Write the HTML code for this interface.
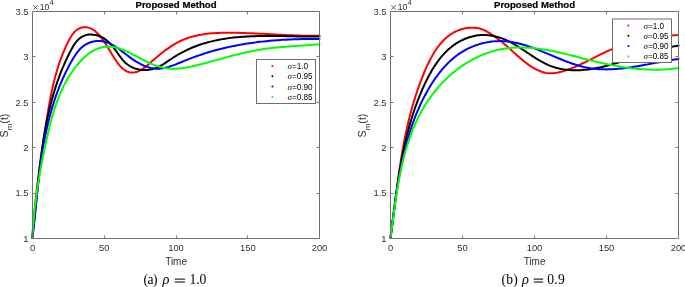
<!DOCTYPE html>
<html><head><meta charset="utf-8"><style>
html,body{margin:0;padding:0;background:#fff;width:685px;height:287px;overflow:hidden}
svg{display:block;will-change:transform}
</style></head><body>
<svg width="685" height="287" viewBox="0 0 685 287">
<rect width="685" height="287" fill="#fff"/>
<g fill="none" stroke-width="2" stroke-linejoin="round" stroke-linecap="round">
<path d="M32.30,238.00 32.45,235.78 32.60,233.55 32.76,231.32 32.93,229.10 33.10,226.87 33.28,224.64 33.47,222.40 33.65,220.17 33.85,217.94 34.05,215.71 34.26,213.47 34.47,211.24 34.68,209.00 34.90,206.76 35.13,204.53 35.36,202.29 35.60,200.05 35.84,197.81 36.08,195.57 36.33,193.33 36.59,191.10 36.85,188.86 37.11,186.62 37.38,184.38 37.65,182.14 37.93,179.90 38.21,177.67 38.49,175.43 38.78,173.19 39.07,170.95 39.37,168.72 39.67,166.48 39.97,164.25 40.27,162.01 40.58,159.78 40.89,157.55 41.21,155.32 41.53,153.09 41.85,150.86 42.17,148.63 42.50,146.40 42.83,144.18 43.17,141.95 43.50,139.73 43.84,137.51 44.18,135.29 44.52,133.07 44.87,130.86 45.21,128.64 45.56,126.43 45.91,124.22 46.27,122.01 46.62,119.80 46.98,117.60 47.34,115.40 47.70,113.20 48.07,111.00 48.44,108.80 48.82,106.61 49.20,104.42 49.60,102.23 50.00,100.04 50.42,97.85 50.84,95.67 51.28,93.49 51.73,91.31 52.20,89.14 52.68,86.96 53.18,84.79 53.70,82.62 54.23,80.45 54.79,78.29 55.36,76.12 55.96,73.96 56.57,71.80 57.22,69.65 57.88,67.49 58.57,65.34 59.29,63.19 60.04,61.05 60.81,58.90 61.62,56.76 62.45,54.62 63.31,52.48 64.21,50.34 65.14,48.21 66.11,46.08 67.11,43.95 68.15,41.83 69.23,39.73 70.38,37.70 71.59,35.76 72.88,33.94 74.26,32.27 75.74,30.79 77.33,29.52 79.04,28.49 80.89,27.74 82.88,27.30 84.99,27.18 87.15,27.37 89.30,27.87 91.38,28.69 93.34,29.79 95.19,31.15 96.92,32.69 98.55,34.39 100.09,36.19 101.54,38.04 102.90,39.90 104.20,41.76 105.43,43.62 106.62,45.48 107.78,47.35 108.92,49.23 110.05,51.11 111.19,53.01 112.35,54.92 113.54,56.85 114.78,58.80 116.08,60.76 117.44,62.72 118.88,64.61 120.39,66.41 121.99,68.06 123.67,69.51 125.45,70.72 127.32,71.65 129.29,72.27 131.31,72.59 133.34,72.60 135.35,72.31 137.31,71.74 139.23,70.93 141.11,69.90 142.96,68.70 144.79,67.36 146.59,65.92 148.38,64.41 150.16,62.86 151.94,61.32 153.71,59.78 155.49,58.26 157.27,56.76 159.06,55.28 160.85,53.83 162.65,52.40 164.46,51.01 166.28,49.65 168.11,48.34 169.96,47.06 171.83,45.83 173.72,44.65 175.63,43.53 177.56,42.46 179.51,41.45 181.49,40.50 183.50,39.62 185.54,38.81 187.60,38.06 189.69,37.37 191.80,36.75 193.94,36.18 196.09,35.66 198.26,35.20 200.45,34.79 202.66,34.42 204.88,34.10 207.11,33.82 209.35,33.58 211.60,33.37 213.87,33.20 216.13,33.06 218.41,32.95 220.68,32.87 222.96,32.81 225.24,32.77 227.52,32.75 229.79,32.75 232.06,32.76 234.33,32.79 236.59,32.82 238.85,32.87 241.10,32.92 243.35,32.99 245.60,33.06 247.84,33.14 250.08,33.23 252.32,33.32 254.56,33.43 256.79,33.53 259.02,33.64 261.25,33.76 263.48,33.87 265.70,33.99 267.93,34.11 270.16,34.23 272.38,34.36 274.61,34.48 276.83,34.60 279.06,34.72 281.28,34.83 283.51,34.94 285.74,35.05 287.97,35.15 290.20,35.25 292.44,35.34 294.67,35.43 296.91,35.50 299.15,35.57 301.40,35.63 303.65,35.68 305.90,35.72 308.16,35.75 310.42,35.77 312.68,35.77 314.95,35.76 317.22,35.74 319.50,35.70" stroke="#ff0000"/>
<path d="M32.29,238.00 32.56,235.88 32.82,233.76 33.07,231.64 33.32,229.52 33.57,227.40 33.81,225.27 34.04,223.15 34.27,221.02 34.50,218.89 34.73,216.76 34.95,214.63 35.17,212.49 35.39,210.36 35.60,208.23 35.82,206.09 36.03,203.96 36.24,201.82 36.46,199.69 36.67,197.55 36.88,195.41 37.09,193.27 37.31,191.14 37.52,189.00 37.74,186.86 37.95,184.72 38.17,182.59 38.39,180.45 38.62,178.31 38.85,176.18 39.08,174.04 39.31,171.91 39.55,169.77 39.79,167.64 40.04,165.50 40.29,163.37 40.55,161.24 40.81,159.11 41.08,156.98 41.36,154.85 41.64,152.73 41.93,150.60 42.22,148.48 42.52,146.36 42.83,144.24 43.15,142.12 43.48,140.00 43.82,137.89 44.16,135.77 44.52,133.66 44.88,131.55 45.26,129.45 45.64,127.34 46.04,125.24 46.44,123.14 46.86,121.05 47.29,118.95 47.73,116.86 48.19,114.77 48.65,112.68 49.13,110.60 49.63,108.52 50.13,106.44 50.65,104.37 51.19,102.30 51.74,100.23 52.30,98.17 52.88,96.11 53.47,94.05 54.09,92.00 54.71,89.95 55.36,87.91 56.02,85.86 56.69,83.83 57.39,81.79 58.10,79.76 58.83,77.74 59.58,75.72 60.35,73.70 61.13,71.69 61.94,69.68 62.77,67.68 63.61,65.68 64.48,63.69 65.37,61.70 66.27,59.72 67.20,57.74 68.15,55.77 69.13,53.80 70.12,51.84 71.14,49.89 72.20,47.96 73.29,46.08 74.45,44.28 75.67,42.56 76.97,40.95 78.36,39.48 79.85,38.16 81.45,37.02 83.18,36.08 85.04,35.35 87.02,34.86 89.10,34.58 91.23,34.51 93.40,34.65 95.57,34.99 97.71,35.52 99.78,36.23 101.75,37.12 103.63,38.17 105.41,39.38 107.10,40.71 108.72,42.17 110.26,43.72 111.74,45.36 113.16,47.07 114.53,48.84 115.86,50.64 117.16,52.46 118.44,54.28 119.73,56.09 121.04,57.85 122.38,59.54 123.79,61.15 125.28,62.65 126.86,64.03 128.54,65.26 130.31,66.35 132.16,67.29 134.08,68.10 136.06,68.76 138.09,69.29 140.15,69.67 142.24,69.91 144.35,70.01 146.47,69.97 148.58,69.79 150.67,69.47 152.74,69.01 154.77,68.40 156.75,67.66 158.69,66.79 160.59,65.80 162.45,64.73 164.29,63.59 166.11,62.39 167.92,61.17 169.73,59.94 171.55,58.71 173.38,57.52 175.22,56.36 177.08,55.23 178.96,54.14 180.85,53.08 182.75,52.06 184.67,51.08 186.60,50.13 188.54,49.23 190.49,48.36 192.45,47.53 194.43,46.73 196.41,45.97 198.41,45.25 200.41,44.56 202.43,43.90 204.45,43.28 206.49,42.69 208.53,42.13 210.58,41.60 212.64,41.10 214.71,40.63 216.79,40.19 218.87,39.77 220.96,39.38 223.06,39.02 225.16,38.68 227.27,38.37 229.38,38.08 231.50,37.81 233.63,37.56 235.76,37.34 237.90,37.13 240.04,36.95 242.18,36.78 244.33,36.63 246.48,36.50 248.63,36.38 250.79,36.28 252.95,36.20 255.11,36.13 257.28,36.07 259.44,36.02 261.61,35.99 263.78,35.97 265.95,35.95 268.11,35.95 270.28,35.95 272.45,35.97 274.62,35.98 276.79,36.01 278.95,36.04 281.12,36.08 283.28,36.12 285.44,36.16 287.60,36.20 289.76,36.25 291.91,36.29 294.06,36.34 296.21,36.39 298.35,36.43 300.49,36.47 302.62,36.51 304.75,36.54 306.88,36.57 309.00,36.59 311.11,36.61 313.22,36.62 315.32,36.62 317.41,36.62 319.50,36.60" stroke="#000000"/>
<path d="M32.29,238.00 32.54,235.97 32.78,233.95 33.01,231.91 33.24,229.88 33.47,227.85 33.70,225.81 33.92,223.77 34.14,221.73 34.36,219.69 34.58,217.65 34.79,215.60 35.01,213.55 35.22,211.50 35.43,209.45 35.64,207.40 35.86,205.35 36.07,203.30 36.28,201.25 36.50,199.19 36.71,197.14 36.93,195.08 37.15,193.03 37.37,190.97 37.59,188.92 37.82,186.86 38.05,184.81 38.28,182.75 38.52,180.70 38.76,178.64 39.00,176.59 39.25,174.54 39.51,172.48 39.77,170.43 40.03,168.38 40.30,166.33 40.58,164.28 40.86,162.24 41.15,160.19 41.45,158.15 41.76,156.10 42.07,154.06 42.39,152.02 42.72,149.99 43.06,147.95 43.40,145.92 43.76,143.89 44.12,141.86 44.50,139.84 44.88,137.81 45.28,135.79 45.69,133.78 46.10,131.76 46.53,129.75 46.97,127.74 47.42,125.74 47.89,123.74 48.37,121.74 48.86,119.74 49.36,117.75 49.88,115.77 50.41,113.78 50.95,111.80 51.51,109.83 52.08,107.86 52.67,105.89 53.28,103.93 53.90,101.97 54.53,100.02 55.18,98.07 55.85,96.13 56.54,94.19 57.24,92.26 57.96,90.33 58.70,88.41 59.45,86.49 60.23,84.58 61.02,82.68 61.83,80.78 62.66,78.88 63.51,76.99 64.38,75.11 65.27,73.24 66.18,71.37 67.12,69.50 68.07,67.65 69.04,65.80 70.04,63.96 71.06,62.12 72.10,60.29 73.17,58.47 74.27,56.68 75.40,54.93 76.59,53.22 77.84,51.59 79.14,50.02 80.52,48.55 81.97,47.18 83.52,45.93 85.15,44.80 86.88,43.82 88.70,42.98 90.58,42.28 92.52,41.73 94.50,41.34 96.50,41.09 98.51,41.00 100.51,41.07 102.48,41.30 104.42,41.68 106.33,42.22 108.20,42.89 110.04,43.68 111.85,44.58 113.65,45.58 115.42,46.67 117.18,47.83 118.92,49.04 120.65,50.30 122.38,51.60 124.10,52.92 125.82,54.24 127.55,55.56 129.28,56.87 131.02,58.14 132.78,59.37 134.54,60.55 136.32,61.67 138.12,62.73 139.92,63.72 141.74,64.65 143.58,65.49 145.42,66.25 147.28,66.91 149.15,67.49 151.04,67.96 152.93,68.32 154.84,68.57 156.77,68.70 158.70,68.71 160.65,68.59 162.61,68.34 164.57,67.96 166.55,67.48 168.53,66.91 170.51,66.27 172.49,65.57 174.47,64.83 176.43,64.06 178.39,63.28 180.34,62.50 182.29,61.71 184.22,60.94 186.15,60.16 188.08,59.40 190.01,58.64 191.95,57.90 193.88,57.17 195.82,56.46 197.77,55.77 199.72,55.10 201.67,54.44 203.63,53.80 205.59,53.17 207.56,52.56 209.53,51.97 211.50,51.39 213.48,50.83 215.46,50.29 217.45,49.76 219.44,49.24 221.43,48.74 223.43,48.26 225.43,47.79 227.43,47.33 229.44,46.89 231.45,46.46 233.46,46.05 235.47,45.65 237.49,45.26 239.51,44.89 241.54,44.53 243.56,44.18 245.59,43.85 247.62,43.53 249.66,43.22 251.69,42.92 253.73,42.64 255.77,42.37 257.81,42.11 259.85,41.86 261.90,41.62 263.94,41.40 265.99,41.19 268.04,40.98 270.09,40.79 272.15,40.61 274.20,40.44 276.25,40.28 278.31,40.13 280.37,39.99 282.42,39.86 284.48,39.74 286.54,39.63 288.60,39.53 290.66,39.44 292.72,39.35 294.78,39.28 296.84,39.21 298.90,39.16 300.96,39.11 303.03,39.07 305.09,39.04 307.15,39.01 309.21,38.99 311.27,38.98 313.33,38.98 315.38,38.99 317.44,39.00 319.50,39.02" stroke="#0000ff"/>
<path d="M32.30,238.00 32.42,235.97 32.55,233.95 32.68,231.93 32.82,229.91 32.97,227.90 33.12,225.89 33.29,223.89 33.46,221.89 33.63,219.89 33.82,217.90 34.01,215.91 34.21,213.92 34.42,211.94 34.63,209.96 34.85,207.98 35.08,206.00 35.31,204.03 35.55,202.06 35.80,200.09 36.05,198.13 36.31,196.16 36.58,194.20 36.85,192.24 37.13,190.28 37.42,188.32 37.71,186.37 38.01,184.42 38.31,182.46 38.63,180.51 38.94,178.56 39.27,176.61 39.60,174.66 39.93,172.71 40.28,170.76 40.63,168.81 40.98,166.87 41.34,164.92 41.70,162.97 42.08,161.02 42.45,159.07 42.84,157.12 43.22,155.17 43.62,153.22 44.02,151.27 44.42,149.32 44.83,147.37 45.25,145.41 45.67,143.46 46.10,141.50 46.53,139.54 46.96,137.58 47.41,135.62 47.86,133.66 48.32,131.70 48.78,129.74 49.26,127.78 49.74,125.82 50.24,123.87 50.75,121.91 51.27,119.97 51.80,118.02 52.35,116.08 52.91,114.15 53.48,112.22 54.08,110.30 54.69,108.39 55.31,106.48 55.96,104.58 56.62,102.69 57.31,100.81 58.01,98.94 58.74,97.09 59.49,95.24 60.26,93.40 61.06,91.58 61.88,89.76 62.72,87.97 63.59,86.18 64.49,84.41 65.42,82.66 66.37,80.92 67.35,79.20 68.37,77.49 69.41,75.80 70.48,74.13 71.59,72.48 72.73,70.85 73.91,69.24 75.11,67.65 76.36,66.08 77.64,64.53 78.95,63.00 80.30,61.49 81.70,60.01 83.13,58.56 84.60,57.16 86.11,55.80 87.66,54.51 89.25,53.29 90.89,52.15 92.56,51.10 94.28,50.16 96.05,49.32 97.84,48.59 99.67,47.97 101.52,47.46 103.39,47.07 105.27,46.79 107.17,46.64 109.07,46.60 110.98,46.69 112.88,46.90 114.77,47.23 116.66,47.67 118.55,48.20 120.43,48.82 122.31,49.51 124.18,50.28 126.04,51.10 127.90,51.97 129.75,52.88 131.60,53.81 133.44,54.77 135.27,55.73 137.09,56.70 138.91,57.67 140.72,58.62 142.53,59.56 144.34,60.48 146.15,61.38 147.95,62.25 149.76,63.09 151.58,63.88 153.40,64.64 155.22,65.34 157.05,66.00 158.89,66.59 160.75,67.13 162.61,67.59 164.49,67.98 166.38,68.30 168.28,68.53 170.20,68.69 172.14,68.77 174.08,68.78 176.04,68.73 178.01,68.62 179.98,68.45 181.96,68.22 183.95,67.95 185.94,67.63 187.93,67.28 189.93,66.89 191.92,66.46 193.92,66.01 195.91,65.54 197.90,65.04 199.89,64.53 201.87,64.01 203.84,63.49 205.81,62.96 207.76,62.43 209.71,61.89 211.66,61.36 213.60,60.82 215.53,60.28 217.46,59.75 219.39,59.22 221.31,58.68 223.23,58.16 225.14,57.63 227.06,57.11 228.97,56.60 230.88,56.09 232.79,55.59 234.70,55.10 236.61,54.61 238.52,54.14 240.44,53.67 242.35,53.21 244.27,52.77 246.19,52.33 248.12,51.91 250.04,51.51 251.98,51.11 253.92,50.73 255.86,50.37 257.81,50.02 259.77,49.69 261.73,49.38 263.70,49.09 265.68,48.81 267.66,48.54 269.65,48.30 271.64,48.06 273.64,47.84 275.64,47.63 277.64,47.43 279.65,47.24 281.66,47.06 283.67,46.88 285.68,46.72 287.69,46.56 289.70,46.41 291.71,46.26 293.72,46.12 295.73,45.98 297.74,45.84 299.74,45.70 301.74,45.57 303.73,45.43 305.73,45.29 307.71,45.15 309.69,45.01 311.67,44.86 313.64,44.71 315.60,44.55 317.55,44.39 319.50,44.22" stroke="#00ff00"/>
</g>
<rect x="32.5" y="11.5" width="287" height="227" fill="none" stroke="#6e6e6e" stroke-width="1"/>
<path d="M32.5,238.5v-3M32.5,11.5v3M104.5,238.5v-3M104.5,11.5v3M176.5,238.5v-3M176.5,11.5v3M247.5,238.5v-3M247.5,11.5v3M319.5,238.5v-3M319.5,11.5v3M32.5,238.5h3M319.5,238.5h-3M32.5,193.5h3M319.5,193.5h-3M32.5,147.5h3M319.5,147.5h-3M32.5,102.5h3M319.5,102.5h-3M32.5,56.5h3M319.5,56.5h-3M32.5,11.5h3M319.5,11.5h-3" stroke="#7c7c7c" stroke-width="1" fill="none"/>
<g font-family="Liberation Sans, sans-serif" font-size="9.4" fill="#303030">
<text x="32.5" y="251.3" text-anchor="middle">0</text>
<text x="104.2" y="251.3" text-anchor="middle">50</text>
<text x="176.0" y="251.3" text-anchor="middle">100</text>
<text x="247.8" y="251.3" text-anchor="middle">150</text>
<text x="319.5" y="251.3" text-anchor="middle">200</text>
<text x="28.5" y="241.7" text-anchor="end">1</text>
<text x="28.5" y="196.3" text-anchor="end">1.5</text>
<text x="28.5" y="150.9" text-anchor="end">2</text>
<text x="28.5" y="105.5" text-anchor="end">2.5</text>
<text x="28.5" y="60.1" text-anchor="end">3</text>
<text x="28.5" y="14.7" text-anchor="end">3.5</text>
<path d="M33.3,5.3L37.7,9.6M37.7,5.3L33.3,9.6" stroke="#303030" stroke-width="0.75" fill="none"/>
<text x="39.7" y="9.75" font-size="9.9" textLength="9.6" lengthAdjust="spacingAndGlyphs">10</text>
<text x="49.6" y="4.7" font-size="7.4">4</text>
<text x="176.1" y="264.9" text-anchor="middle" font-size="10">Time</text>
<text transform="translate(7.699999999999999,125.5) rotate(-90)" text-anchor="middle" font-size="10.6">S<tspan font-size="8" dy="4">m</tspan><tspan dy="-4">(t)</tspan></text>
<text x="176.0" y="8" text-anchor="middle" font-weight="bold" font-size="9.6" fill="#000" stroke="#000" stroke-width="0.2">Proposed Method</text>
</g>
<rect x="256.5" y="59.5" width="59" height="44" fill="#fff" stroke="#6e6e6e" stroke-width="1"/>
<circle cx="272.4" cy="65.90" r="1" fill="#ff0000"/>
<text x="287.5" y="69.00" font-family="Liberation Sans, sans-serif" font-size="8.2" fill="#000"><tspan font-family="Liberation Serif, serif" font-style="italic" font-size="9">&#963;</tspan>=1.0</text>
<circle cx="272.4" cy="76.23" r="1" fill="#000000"/>
<text x="287.5" y="79.33" font-family="Liberation Sans, sans-serif" font-size="8.2" fill="#000"><tspan font-family="Liberation Serif, serif" font-style="italic" font-size="9">&#963;</tspan>=0.95</text>
<circle cx="272.4" cy="86.56" r="1" fill="#0000ff"/>
<text x="287.5" y="89.66" font-family="Liberation Sans, sans-serif" font-size="8.2" fill="#000"><tspan font-family="Liberation Serif, serif" font-style="italic" font-size="9">&#963;</tspan>=0.90</text>
<circle cx="272.4" cy="96.89" r="1" fill="#00ff00"/>
<text x="287.5" y="99.99" font-family="Liberation Sans, sans-serif" font-size="8.2" fill="#000"><tspan font-family="Liberation Serif, serif" font-style="italic" font-size="9">&#963;</tspan>=0.85</text>
<g font-family="Liberation Serif, serif" font-size="13.6" fill="#000">
<text x="143.4" y="283.8" letter-spacing="-0.45">(a)</text>
<text x="162.6" y="283.8" font-style="italic" font-size="14.4">&#961;</text>
<rect x="174.70000000000002" y="278.6" width="10.3" height="1.0"/>
<rect x="174.70000000000002" y="281.5" width="10.3" height="1.0"/>
<text x="189.4" y="283.8" letter-spacing="0">1.0</text>
</g>
<g fill="none" stroke-width="2" stroke-linejoin="round" stroke-linecap="round">
<path d="M390.50,238.00 390.79,235.87 391.08,233.75 391.36,231.62 391.64,229.50 391.92,227.37 392.20,225.25 392.47,223.12 392.74,221.00 393.01,218.88 393.28,216.76 393.55,214.64 393.82,212.52 394.08,210.40 394.35,208.29 394.61,206.17 394.88,204.05 395.14,201.94 395.41,199.83 395.68,197.72 395.94,195.60 396.21,193.49 396.48,191.39 396.76,189.28 397.03,187.17 397.31,185.06 397.59,182.96 397.88,180.86 398.17,178.75 398.46,176.65 398.75,174.55 399.05,172.45 399.36,170.36 399.66,168.26 399.98,166.17 400.30,164.07 400.62,161.98 400.95,159.89 401.29,157.80 401.63,155.71 401.98,153.62 402.34,151.54 402.71,149.45 403.08,147.37 403.46,145.29 403.84,143.21 404.24,141.13 404.65,139.06 405.06,136.98 405.48,134.91 405.91,132.83 406.36,130.76 406.81,128.69 407.27,126.63 407.74,124.56 408.23,122.50 408.72,120.43 409.23,118.37 409.75,116.31 410.28,114.26 410.82,112.20 411.38,110.15 411.94,108.10 412.52,106.05 413.12,104.00 413.73,101.95 414.35,99.91 414.98,97.86 415.63,95.82 416.30,93.78 416.98,91.74 417.67,89.71 418.38,87.68 419.11,85.64 419.85,83.61 420.61,81.59 421.39,79.56 422.18,77.54 422.99,75.52 423.82,73.50 424.66,71.48 425.52,69.47 426.41,67.46 427.31,65.46 428.24,63.48 429.20,61.51 430.18,59.57 431.20,57.64 432.24,55.75 433.32,53.89 434.43,52.06 435.58,50.27 436.77,48.52 438.00,46.81 439.27,45.16 440.59,43.55 441.95,42.00 443.36,40.51 444.82,39.08 446.33,37.72 447.89,36.42 449.51,35.20 451.19,34.05 452.92,32.99 454.72,32.00 456.58,31.10 458.50,30.30 460.48,29.58 462.52,28.97 464.60,28.46 466.70,28.07 468.83,27.80 470.97,27.66 473.11,27.65 475.25,27.78 477.37,28.05 479.45,28.48 481.50,29.07 483.51,29.83 485.46,30.74 487.36,31.78 489.23,32.92 491.06,34.12 492.86,35.35 494.64,36.59 496.40,37.85 498.13,39.13 499.83,40.43 501.52,41.74 503.18,43.08 504.82,44.43 506.43,45.81 508.03,47.21 509.61,48.62 511.18,50.03 512.74,51.46 514.31,52.88 515.87,54.31 517.45,55.72 519.04,57.12 520.64,58.51 522.26,59.88 523.92,61.23 525.60,62.55 527.31,63.84 529.07,65.09 530.86,66.30 532.69,67.45 534.56,68.53 536.46,69.53 538.40,70.44 540.36,71.25 542.35,71.94 544.36,72.50 546.39,72.92 548.45,73.19 550.52,73.29 552.61,73.24 554.71,73.05 556.81,72.74 558.91,72.32 561.00,71.81 563.08,71.23 565.14,70.59 567.18,69.91 569.20,69.18 571.21,68.43 573.19,67.63 575.16,66.81 577.12,65.96 579.07,65.08 581.00,64.19 582.93,63.27 584.84,62.34 586.75,61.40 588.66,60.44 590.56,59.48 592.46,58.52 594.35,57.55 596.25,56.59 598.15,55.63 600.05,54.68 601.96,53.74 603.87,52.81 605.79,51.90 607.72,51.02 609.66,50.15 611.61,49.31 613.57,48.50 615.55,47.72 617.53,46.97 619.53,46.24 621.55,45.54 623.57,44.87 625.60,44.23 627.64,43.61 629.69,43.01 631.75,42.44 633.82,41.90 635.89,41.38 637.97,40.88 640.06,40.40 642.15,39.95 644.24,39.51 646.34,39.10 648.45,38.71 650.56,38.33 652.67,37.98 654.78,37.64 656.89,37.33 659.01,37.03 661.13,36.74 663.24,36.47 665.36,36.22 667.47,35.98 669.58,35.76 671.69,35.55 673.80,35.35 675.90,35.17 678.00,35.00" stroke="#ff0000"/>
<path d="M390.50,238.00 390.77,235.97 391.04,233.94 391.30,231.90 391.57,229.87 391.83,227.84 392.09,225.81 392.36,223.78 392.62,221.75 392.87,219.72 393.13,217.70 393.39,215.67 393.65,213.64 393.91,211.62 394.17,209.59 394.43,207.57 394.70,205.55 394.96,203.52 395.23,201.50 395.50,199.48 395.77,197.46 396.04,195.45 396.32,193.43 396.60,191.41 396.88,189.40 397.17,187.39 397.46,185.38 397.75,183.37 398.05,181.36 398.36,179.35 398.67,177.34 398.98,175.34 399.31,173.33 399.63,171.33 399.97,169.33 400.31,167.34 400.65,165.34 401.01,163.34 401.37,161.35 401.74,159.36 402.12,157.37 402.50,155.38 402.89,153.40 403.30,151.41 403.71,149.43 404.13,147.45 404.56,145.48 405.00,143.50 405.45,141.53 405.91,139.56 406.38,137.59 406.86,135.62 407.36,133.66 407.86,131.70 408.38,129.74 408.91,127.78 409.45,125.83 410.00,123.87 410.57,121.93 411.14,119.98 411.74,118.03 412.34,116.09 412.96,114.15 413.60,112.22 414.25,110.29 414.91,108.36 415.59,106.43 416.28,104.50 416.99,102.58 417.72,100.67 418.46,98.75 419.22,96.84 419.99,94.93 420.78,93.02 421.59,91.12 422.42,89.22 423.26,87.32 424.13,85.43 425.01,83.54 425.91,81.66 426.83,79.79 427.77,77.93 428.74,76.08 429.72,74.24 430.74,72.42 431.78,70.62 432.84,68.84 433.93,67.09 435.05,65.35 436.20,63.65 437.38,61.97 438.59,60.33 439.83,58.71 441.11,57.13 442.41,55.59 443.76,54.09 445.14,52.62 446.55,51.20 448.00,49.83 449.49,48.50 451.03,47.22 452.60,45.99 454.21,44.81 455.86,43.68 457.56,42.62 459.30,41.61 461.08,40.66 462.90,39.78 464.74,38.97 466.62,38.22 468.53,37.54 470.46,36.94 472.41,36.41 474.37,35.97 476.35,35.60 478.34,35.32 480.33,35.12 482.33,35.02 484.33,35.00 486.33,35.07 488.32,35.22 490.31,35.46 492.30,35.77 494.27,36.16 496.23,36.62 498.18,37.16 500.12,37.76 502.04,38.43 503.94,39.16 505.82,39.96 507.68,40.81 509.52,41.71 511.35,42.67 513.16,43.66 514.95,44.70 516.73,45.77 518.50,46.86 520.26,47.98 522.01,49.12 523.76,50.27 525.50,51.43 527.24,52.59 528.98,53.76 530.72,54.91 532.46,56.06 534.20,57.19 535.95,58.30 537.70,59.38 539.47,60.43 541.24,61.45 543.02,62.42 544.82,63.35 546.64,64.23 548.47,65.05 550.31,65.82 552.18,66.52 554.07,67.15 555.97,67.71 557.90,68.22 559.83,68.66 561.79,69.05 563.75,69.37 565.73,69.65 567.72,69.86 569.71,70.03 571.72,70.14 573.73,70.21 575.75,70.23 577.77,70.20 579.79,70.13 581.82,70.02 583.84,69.86 585.87,69.67 587.89,69.45 589.91,69.19 591.92,68.89 593.93,68.56 595.93,68.21 597.93,67.82 599.93,67.41 601.92,66.97 603.91,66.51 605.89,66.03 607.87,65.52 609.85,65.00 611.83,64.45 613.80,63.89 615.77,63.32 617.73,62.73 619.70,62.13 621.66,61.51 623.62,60.89 625.58,60.26 627.54,59.63 629.49,58.99 631.45,58.34 633.40,57.70 635.36,57.05 637.31,56.40 639.27,55.76 641.22,55.12 643.17,54.49 645.13,53.86 647.08,53.24 649.04,52.63 650.99,52.04 652.95,51.45 654.91,50.88 656.87,50.33 658.83,49.79 660.80,49.27 662.76,48.78 664.73,48.30 666.70,47.85 668.68,47.42 670.66,47.02 672.64,46.64 674.62,46.30 676.61,45.98 678.60,45.70" stroke="#000000"/>
<path d="M390.50,238.00 390.74,236.07 390.98,234.14 391.22,232.20 391.46,230.27 391.71,228.33 391.95,226.39 392.19,224.45 392.43,222.51 392.68,220.56 392.93,218.62 393.17,216.67 393.42,214.73 393.68,212.78 393.93,210.83 394.19,208.88 394.45,206.94 394.72,204.99 394.98,203.04 395.26,201.09 395.53,199.14 395.81,197.20 396.10,195.25 396.39,193.30 396.68,191.36 396.98,189.41 397.29,187.47 397.60,185.53 397.92,183.58 398.24,181.64 398.58,179.70 398.91,177.77 399.26,175.83 399.61,173.90 399.97,171.96 400.34,170.03 400.72,168.11 401.11,166.18 401.50,164.26 401.91,162.34 402.32,160.42 402.74,158.50 403.17,156.59 403.62,154.68 404.07,152.77 404.53,150.87 405.01,148.97 405.49,147.08 405.99,145.18 406.50,143.30 407.02,141.41 407.55,139.53 408.10,137.65 408.66,135.78 409.23,133.91 409.81,132.05 410.41,130.19 411.02,128.34 411.65,126.49 412.29,124.64 412.94,122.80 413.61,120.97 414.30,119.14 415.00,117.32 415.71,115.50 416.44,113.69 417.19,111.89 417.96,110.09 418.74,108.29 419.53,106.50 420.35,104.72 421.18,102.95 422.03,101.18 422.90,99.42 423.78,97.67 424.69,95.92 425.61,94.18 426.55,92.45 427.52,90.73 428.50,89.02 429.50,87.33 430.53,85.64 431.57,83.97 432.64,82.31 433.74,80.66 434.85,79.03 435.99,77.42 437.15,75.82 438.34,74.24 439.55,72.68 440.78,71.14 442.05,69.62 443.33,68.12 444.65,66.64 445.99,65.19 447.36,63.77 448.75,62.38 450.18,61.02 451.63,59.69 453.11,58.40 454.62,57.14 456.16,55.93 457.73,54.76 459.33,53.63 460.96,52.55 462.62,51.52 464.31,50.53 466.03,49.59 467.77,48.70 469.53,47.85 471.32,47.06 473.13,46.31 474.96,45.61 476.80,44.96 478.67,44.36 480.54,43.81 482.43,43.31 484.33,42.86 486.25,42.46 488.17,42.12 490.09,41.82 492.02,41.57 493.96,41.37 495.90,41.23 497.83,41.14 499.77,41.10 501.70,41.11 503.63,41.18 505.56,41.30 507.48,41.47 509.39,41.69 511.29,41.96 513.19,42.28 515.09,42.64 516.97,43.04 518.86,43.48 520.74,43.96 522.61,44.47 524.48,45.01 526.35,45.59 528.21,46.20 530.07,46.83 531.92,47.49 533.78,48.16 535.63,48.86 537.48,49.58 539.32,50.31 541.17,51.06 543.01,51.81 544.85,52.58 546.69,53.35 548.53,54.13 550.37,54.91 552.21,55.69 554.05,56.47 555.89,57.25 557.73,58.02 559.58,58.78 561.42,59.53 563.26,60.27 565.11,61.00 566.96,61.70 568.81,62.39 570.67,63.06 572.52,63.70 574.38,64.32 576.25,64.91 578.11,65.47 579.98,66.00 581.86,66.50 583.74,66.96 585.62,67.38 587.51,67.76 589.41,68.10 591.31,68.39 593.22,68.64 595.13,68.86 597.04,69.03 598.96,69.17 600.89,69.27 602.81,69.34 604.75,69.37 606.68,69.38 608.62,69.35 610.56,69.29 612.50,69.20 614.45,69.09 616.40,68.95 618.35,68.79 620.30,68.61 622.26,68.40 624.21,68.17 626.17,67.93 628.13,67.67 630.08,67.39 632.04,67.09 634.00,66.79 635.96,66.47 637.92,66.14 639.88,65.80 641.84,65.45 643.79,65.09 645.75,64.73 647.70,64.37 649.66,64.00 651.61,63.63 653.56,63.26 655.50,62.89 657.45,62.52 659.39,62.16 661.33,61.80 663.26,61.44 665.19,61.10 667.12,60.76 669.05,60.44 670.97,60.12 672.88,59.82 674.79,59.53 676.70,59.26 678.60,59.00" stroke="#0000ff"/>
<path d="M390.50,237.99 390.74,236.19 390.98,234.37 391.23,232.55 391.47,230.72 391.71,228.89 391.95,227.05 392.19,225.21 392.43,223.36 392.68,221.50 392.92,219.64 393.17,217.78 393.42,215.91 393.67,214.04 393.92,212.17 394.17,210.29 394.43,208.41 394.70,206.53 394.96,204.64 395.23,202.75 395.51,200.86 395.79,198.97 396.07,197.08 396.37,195.18 396.66,193.29 396.97,191.39 397.27,189.49 397.59,187.60 397.92,185.70 398.25,183.81 398.59,181.91 398.93,180.02 399.29,178.13 399.65,176.24 400.03,174.35 400.41,172.46 400.80,170.58 401.20,168.69 401.62,166.81 402.04,164.94 402.48,163.07 402.92,161.20 403.38,159.33 403.85,157.47 404.34,155.61 404.83,153.76 405.34,151.92 405.86,150.08 406.40,148.24 406.95,146.41 407.51,144.59 408.09,142.77 408.68,140.96 409.29,139.15 409.92,137.36 410.56,135.57 411.22,133.78 411.89,132.01 412.58,130.24 413.29,128.49 414.01,126.74 414.76,125.00 415.52,123.27 416.30,121.55 417.10,119.84 417.92,118.13 418.76,116.44 419.61,114.76 420.49,113.09 421.39,111.44 422.31,109.79 423.25,108.15 424.21,106.53 425.20,104.92 426.21,103.32 427.23,101.74 428.29,100.16 429.36,98.60 430.46,97.06 431.58,95.52 432.73,94.01 433.89,92.50 435.08,91.02 436.29,89.55 437.52,88.09 438.78,86.65 440.05,85.24 441.35,83.83 442.66,82.45 443.99,81.09 445.35,79.74 446.72,78.42 448.11,77.11 449.52,75.83 450.95,74.57 452.40,73.33 453.86,72.12 455.35,70.92 456.84,69.75 458.36,68.61 459.89,67.49 461.44,66.39 463.00,65.32 464.58,64.28 466.17,63.26 467.78,62.27 469.40,61.31 471.03,60.38 472.68,59.47 474.35,58.60 476.02,57.75 477.71,56.94 479.41,56.15 481.12,55.40 482.85,54.67 484.58,53.98 486.33,53.33 488.09,52.70 489.86,52.11 491.63,51.56 493.42,51.04 495.22,50.55 497.02,50.10 498.84,49.69 500.66,49.31 502.49,48.97 504.33,48.67 506.18,48.40 508.03,48.17 509.89,47.97 511.75,47.81 513.62,47.68 515.50,47.58 517.38,47.51 519.26,47.48 521.14,47.47 523.03,47.50 524.92,47.55 526.82,47.63 528.71,47.73 530.61,47.87 532.50,48.02 534.40,48.21 536.29,48.41 538.18,48.64 540.08,48.89 541.97,49.16 543.85,49.45 545.74,49.77 547.62,50.10 549.51,50.44 551.39,50.81 553.27,51.18 555.14,51.58 557.02,51.98 558.89,52.40 560.76,52.83 562.63,53.26 564.50,53.71 566.36,54.17 568.23,54.63 570.09,55.10 571.95,55.57 573.82,56.04 575.67,56.52 577.53,57.00 579.39,57.48 581.24,57.96 583.10,58.44 584.95,58.92 586.80,59.39 588.66,59.86 590.51,60.32 592.36,60.78 594.20,61.23 596.05,61.67 597.90,62.11 599.75,62.53 601.59,62.95 603.44,63.36 605.29,63.76 607.13,64.15 608.98,64.53 610.83,64.90 612.67,65.26 614.52,65.61 616.37,65.95 618.22,66.27 620.07,66.58 621.92,66.88 623.78,67.17 625.63,67.44 627.49,67.70 629.34,67.95 631.20,68.18 633.06,68.39 634.93,68.60 636.79,68.78 638.66,68.95 640.53,69.10 642.40,69.24 644.28,69.35 646.15,69.45 648.03,69.54 649.92,69.60 651.80,69.65 653.69,69.67 655.58,69.68 657.48,69.67 659.38,69.63 661.28,69.58 663.19,69.50 665.10,69.41 667.02,69.29 668.94,69.15 670.86,68.98 672.79,68.79 674.72,68.58 676.66,68.35 678.60,68.09" stroke="#00ff00"/>
</g>
<rect x="390.5" y="11.5" width="288" height="227" fill="none" stroke="#6e6e6e" stroke-width="1"/>
<path d="M390.5,238.5v-3M390.5,11.5v3M462.5,238.5v-3M462.5,11.5v3M534.5,238.5v-3M534.5,11.5v3M606.5,238.5v-3M606.5,11.5v3M678.5,238.5v-3M678.5,11.5v3M390.5,238.5h3M678.5,238.5h-3M390.5,193.5h3M678.5,193.5h-3M390.5,147.5h3M678.5,147.5h-3M390.5,102.5h3M678.5,102.5h-3M390.5,56.5h3M678.5,56.5h-3M390.5,11.5h3M678.5,11.5h-3" stroke="#7c7c7c" stroke-width="1" fill="none"/>
<g font-family="Liberation Sans, sans-serif" font-size="9.4" fill="#303030">
<text x="390.5" y="251.3" text-anchor="middle">0</text>
<text x="462.5" y="251.3" text-anchor="middle">50</text>
<text x="534.5" y="251.3" text-anchor="middle">100</text>
<text x="606.5" y="251.3" text-anchor="middle">150</text>
<text x="678.5" y="251.3" text-anchor="middle">200</text>
<text x="386.5" y="241.7" text-anchor="end">1</text>
<text x="386.5" y="196.3" text-anchor="end">1.5</text>
<text x="386.5" y="150.9" text-anchor="end">2</text>
<text x="386.5" y="105.5" text-anchor="end">2.5</text>
<text x="386.5" y="60.1" text-anchor="end">3</text>
<text x="386.5" y="14.7" text-anchor="end">3.5</text>
<path d="M391.3,5.3L395.7,9.6M395.7,5.3L391.3,9.6" stroke="#303030" stroke-width="0.75" fill="none"/>
<text x="397.7" y="9.75" font-size="9.9" textLength="9.6" lengthAdjust="spacingAndGlyphs">10</text>
<text x="407.6" y="4.7" font-size="7.4">4</text>
<text x="534.6" y="264.9" text-anchor="middle" font-size="10">Time</text>
<text transform="translate(365.7,125.5) rotate(-90)" text-anchor="middle" font-size="10.6">S<tspan font-size="8" dy="4">m</tspan><tspan dy="-4">(t)</tspan></text>
<text x="534.5" y="8" text-anchor="middle" font-weight="bold" font-size="9.6" fill="#000" stroke="#000" stroke-width="0.2">Proposed Method</text>
</g>
<rect x="612.5" y="19.0" width="59" height="43.5" fill="#fff" stroke="#6e6e6e" stroke-width="1"/>
<circle cx="628.4" cy="25.40" r="1" fill="#ff0000"/>
<text x="643.5" y="28.50" font-family="Liberation Sans, sans-serif" font-size="8.2" fill="#000"><tspan font-family="Liberation Serif, serif" font-style="italic" font-size="9">&#963;</tspan>=1.0</text>
<circle cx="628.4" cy="35.73" r="1" fill="#000000"/>
<text x="643.5" y="38.83" font-family="Liberation Sans, sans-serif" font-size="8.2" fill="#000"><tspan font-family="Liberation Serif, serif" font-style="italic" font-size="9">&#963;</tspan>=0.95</text>
<circle cx="628.4" cy="46.06" r="1" fill="#0000ff"/>
<text x="643.5" y="49.16" font-family="Liberation Sans, sans-serif" font-size="8.2" fill="#000"><tspan font-family="Liberation Serif, serif" font-style="italic" font-size="9">&#963;</tspan>=0.90</text>
<circle cx="628.4" cy="56.39" r="1" fill="#00ff00"/>
<text x="643.5" y="59.49" font-family="Liberation Sans, sans-serif" font-size="8.2" fill="#000"><tspan font-family="Liberation Serif, serif" font-style="italic" font-size="9">&#963;</tspan>=0.85</text>
<g font-family="Liberation Serif, serif" font-size="13.6" fill="#000">
<text x="501.4" y="283.8" letter-spacing="0.3">(b)</text>
<text x="521.9" y="283.8" font-style="italic" font-size="14.4">&#961;</text>
<rect x="533.6999999999999" y="278.6" width="9.4" height="1.0"/>
<rect x="533.6999999999999" y="281.5" width="9.4" height="1.0"/>
<text x="547.1999999999999" y="283.8" letter-spacing="0.35">0.9</text>
</g>
</svg>
</body></html>
